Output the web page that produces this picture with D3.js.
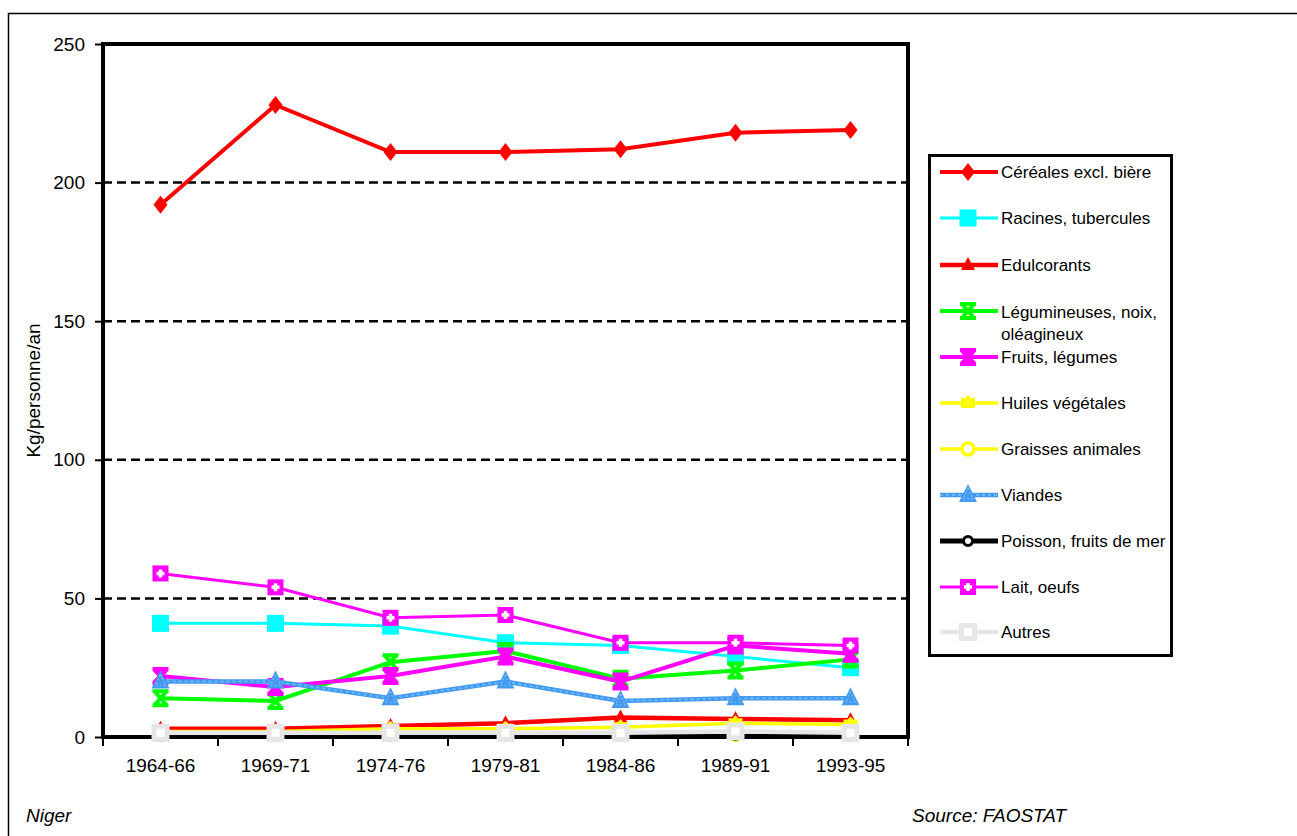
<!DOCTYPE html>
<html>
<head>
<meta charset="utf-8">
<script src="https://cdn.jsdelivr.net/npm/d3@7"></script>
<style>
  body { margin: 0; background: #fff; }
  text { font-family: "Liberation Sans Narrow", "Arial Narrow", "Liberation Sans", sans-serif; fill: #000; }
</style>
</head>
<body>
<svg id="chart" width="1297" height="836"></svg>
<script>
// --- Data ---
const periods = ["1964-66", "1969-71", "1974-76", "1979-81", "1984-86", "1989-91", "1993-95"];
const yTicks = [0, 50, 100, 150, 200, 250];

const cereales = [192, 228, 211, 211, 212, 218, 219];
const racines = [41, 41, 40, 34, 33, 29, 25];
const edulcorants = [3, 3, 4, 5, 7, 6.5, 6];
const legumineuses = [14, 13, 27, 31, 21, 24, 28];
const fruits = [22, 18, 22, 29, 20, 33, 30];
const huiles = [2, 2, 3, 3, 3.5, 5, 4.5];
const graisses = [1, 1, 1, 1, 1, 1, 1];
const viandes = [20, 20, 14, 20, 13, 14, 14];
const poisson = [0.5, 0.5, 0.5, 0.7, 0.7, 0.7, 0.5];
const lait = [59, 54, 43, 44, 34, 34, 33];
const autres = [1.5, 1.5, 1.5, 1.5, 1.5, 2, 1.5];

const seriesNames = [
  "Céréales excl. bière", "Racines, tubercules", "Edulcorants", "Légumineuses, noix, oléagineux",
  "Fruits, légumes", "Huiles végétales", "Graisses animales", "Viandes",
  "Poisson, fruits de mer", "Lait, oeufs", "Autres"
];
const seriesValues = [cereales, racines, edulcorants, legumineuses, fruits, huiles, graisses, viandes, poisson, lait, autres];

// --- Styles ---
const styles = [
  { color: "#ff0000", width: 4, marker: "diamond" },
  { color: "#00ffff", width: 3, marker: "square" },
  { color: "#ff0000", width: 4.5, marker: "triangle" },
  { color: "#00ff00", width: 4, marker: "cross" },
  { color: "#ff00ff", width: 4, marker: "star" },
  { color: "#ffff00", width: 3.5, marker: "smallsquare" },
  { color: "#ffff00", width: 3.5, marker: "circle" },
  { color: "#4499ee", width: 4.5, marker: "bluetri", dots: "#66bbff" },
  { color: "#000000", width: 5, marker: "smallcircle" },
  { color: "#ff00ff", width: 3, marker: "plus" },
  { color: "#e6e6e6", width: 4.5, marker: "hollow" }
];

const svg = d3.select("#chart");
const plot = { left: 103, top: 44, right: 908, bottom: 737 };

// --- Outer frame ---
svg.append("path")
  .attr("d", "M8.5,900 L8.5,13.5 L1297,13.5")
  .attr("fill", "none").attr("stroke", "#000").attr("stroke-width", 1.5);

// --- Scales ---
const x = d3.scaleBand().domain(periods).range([plot.left, plot.right]);
const y = d3.scaleLinear().domain([0, 250]).range([plot.bottom, plot.top]);
const cx = (p) => x(p) + x.bandwidth() / 2;

// gridlines
svg.append("g").selectAll("line")
  .data([50, 100, 150, 200]).enter().append("line")
  .attr("x1", plot.left).attr("x2", plot.right)
  .attr("y1", (d) => y(d)).attr("y2", (d) => y(d))
  .attr("stroke", "#000").attr("stroke-width", 2.5).attr("stroke-dasharray", "9,5");

// frame
svg.append("rect")
  .attr("x", plot.left).attr("y", plot.top)
  .attr("width", plot.right - plot.left).attr("height", plot.bottom - plot.top)
  .attr("fill", "none").attr("stroke", "#000").attr("stroke-width", 4);

// y axis
const yAxis = svg.append("g").attr("transform", `translate(${plot.left},0)`)
  .call(d3.axisLeft(y).tickValues(yTicks).tickSize(8).tickPadding(10));
yAxis.select(".domain").remove();
yAxis.selectAll("line").attr("stroke", "#000").attr("stroke-width", 2);
yAxis.selectAll("text").attr("font-size", 19).attr("font-family", null).attr("fill", "#000");

// x axis
const xAxis = svg.append("g").attr("transform", `translate(0,${plot.bottom})`)
  .call(d3.axisBottom(x).tickSize(0).tickPadding(22));
xAxis.select(".domain").remove();
xAxis.selectAll("text").attr("font-size", 19).attr("font-family", null).attr("fill", "#000");
svg.append("g").selectAll("line")
  .data(d3.range(periods.length + 1)).enter().append("line")
  .attr("x1", (i) => plot.left + i * x.bandwidth()).attr("x2", (i) => plot.left + i * x.bandwidth())
  .attr("y1", plot.bottom).attr("y2", plot.bottom + 9)
  .attr("stroke", "#000").attr("stroke-width", 2);

// y label
svg.append("text")
  .attr("transform", `translate(40,${(plot.top + plot.bottom) / 2}) rotate(-90)`)
  .attr("text-anchor", "middle").attr("font-size", 19)
  .text("Kg/personne/an");

// footer
svg.append("text").attr("x", 26).attr("y", 822).attr("font-size", 19)
  .attr("font-style", "italic").text("Niger");
svg.append("text").attr("x", 912).attr("y", 822).attr("font-size", 19)
  .attr("font-style", "italic").text("Source: FAOSTAT");

// --- Markers ---
function drawMarker(g, type, color, px, py) {
  const m = g.append("g").attr("transform", `translate(${px},${py})`);
  switch (type) {
    case "diamond":
      m.append("path").attr("d", "M0,-9 L7,0 L0,9 L-7,0Z").attr("fill", color);
      break;
    case "square":
      m.append("rect").attr("x", -8.5).attr("y", -8.5).attr("width", 17).attr("height", 17).attr("fill", color);
      break;
    case "triangle":
      m.append("path").attr("d", "M0,-8 L7,5 L-7,5Z").attr("fill", color);
      break;
    case "cross":
      m.append("path").attr("d", "M-6,-7 L6,7 M6,-7 L-6,7 M-8,-7 L8,-7 M-8,7 L8,7")
        .attr("stroke", color).attr("stroke-width", 4).attr("fill", "none");
      break;
    case "star":
      m.append("path").attr("d", "M-6,-6 L6,6 M6,-6 L-6,6 M0,-8 L0,8 M-8,-7 L8,-7 M-8,7 L8,7")
        .attr("stroke", color).attr("stroke-width", 4).attr("fill", "none");
      break;
    case "smallsquare":
      m.append("path").attr("d", "M0,-8 L3,-5 L7,-5 L7,5 L-7,5 L-7,-5 L-3,-5Z").attr("fill", color);
      break;
    case "circle":
      m.append("circle").attr("r", 6).attr("fill", "#fff").attr("stroke", color).attr("stroke-width", 3.5);
      break;
    case "bluetri":
      m.append("path").attr("d", "M0,-11 L9,7 L-9,7Z").attr("fill", color);
      m.append("path").attr("d", "M0,-7 L5,4 L-5,4Z").attr("fill", "none")
        .attr("stroke", "#66bbff").attr("stroke-width", 1.5).attr("stroke-dasharray", "2,2");
      break;
    case "smallcircle":
      m.append("circle").attr("r", 4.5).attr("fill", "#fff").attr("stroke", color).attr("stroke-width", 3);
      break;
    case "plus":
      m.append("rect").attr("x", -8).attr("y", -8).attr("width", 16).attr("height", 16).attr("fill", color);
      m.append("path").attr("d", "M-4,0 L4,0 M0,-4 L0,4").attr("stroke", "#fff").attr("stroke-width", 3.5);
      break;
    case "hollow":
      m.append("rect").attr("x", -9).attr("y", -9).attr("width", 18).attr("height", 18).attr("fill", color);
      m.append("rect").attr("x", -4).attr("y", -4).attr("width", 8).attr("height", 8).attr("fill", "#fff");
      break;
  }
}

// --- Series ---
const line = d3.line().x((d, i) => cx(periods[i])).y((d) => y(d));
const seriesG = svg.append("g");
seriesValues.forEach((vals, si) => {
  const st = styles[si];
  const g = seriesG.append("g");
  g.append("path").attr("d", line(vals))
    .attr("fill", "none").attr("stroke", st.color).attr("stroke-width", st.width);
  if (st.dots) {
    g.append("path").attr("d", line(vals))
      .attr("fill", "none").attr("stroke", st.dots).attr("stroke-width", 2).attr("stroke-dasharray", "3,3");
  }
  vals.forEach((v, i) => drawMarker(g, st.marker, st.color, cx(periods[i]), y(v)));
});

// --- Legend ---
const legend = svg.append("g");
legend.append("rect")
  .attr("x", 929.5).attr("y", 155.5).attr("width", 242).attr("height", 500)
  .attr("fill", "#fff").attr("stroke", "#000").attr("stroke-width", 3);
const legendY = [172, 218, 265, 311, 357, 403, 449, 495, 541, 587, 632];
seriesNames.forEach((name, si) => {
  const st = styles[si];
  const ly = legendY[si];
  const g = legend.append("g");
  g.append("line").attr("x1", 940).attr("x2", 998).attr("y1", ly).attr("y2", ly)
    .attr("stroke", st.color).attr("stroke-width", st.width);
  if (st.dots) {
    g.append("line").attr("x1", 940).attr("x2", 998).attr("y1", ly).attr("y2", ly)
      .attr("stroke", st.dots).attr("stroke-width", 2).attr("stroke-dasharray", "3,3");
  }
  drawMarker(g, st.marker, st.color, 968, ly);
  if (name === "Légumineuses, noix, oléagineux") {
    g.append("text").attr("x", 1001).attr("y", ly + 7).attr("font-size", 17).text("Légumineuses, noix,");
    g.append("text").attr("x", 1001).attr("y", ly + 29).attr("font-size", 17).text("oléagineux");
  } else {
    g.append("text").attr("x", 1001).attr("y", ly + 6).attr("font-size", 17).text(name);
  }
});
</script>
</body>
</html>
